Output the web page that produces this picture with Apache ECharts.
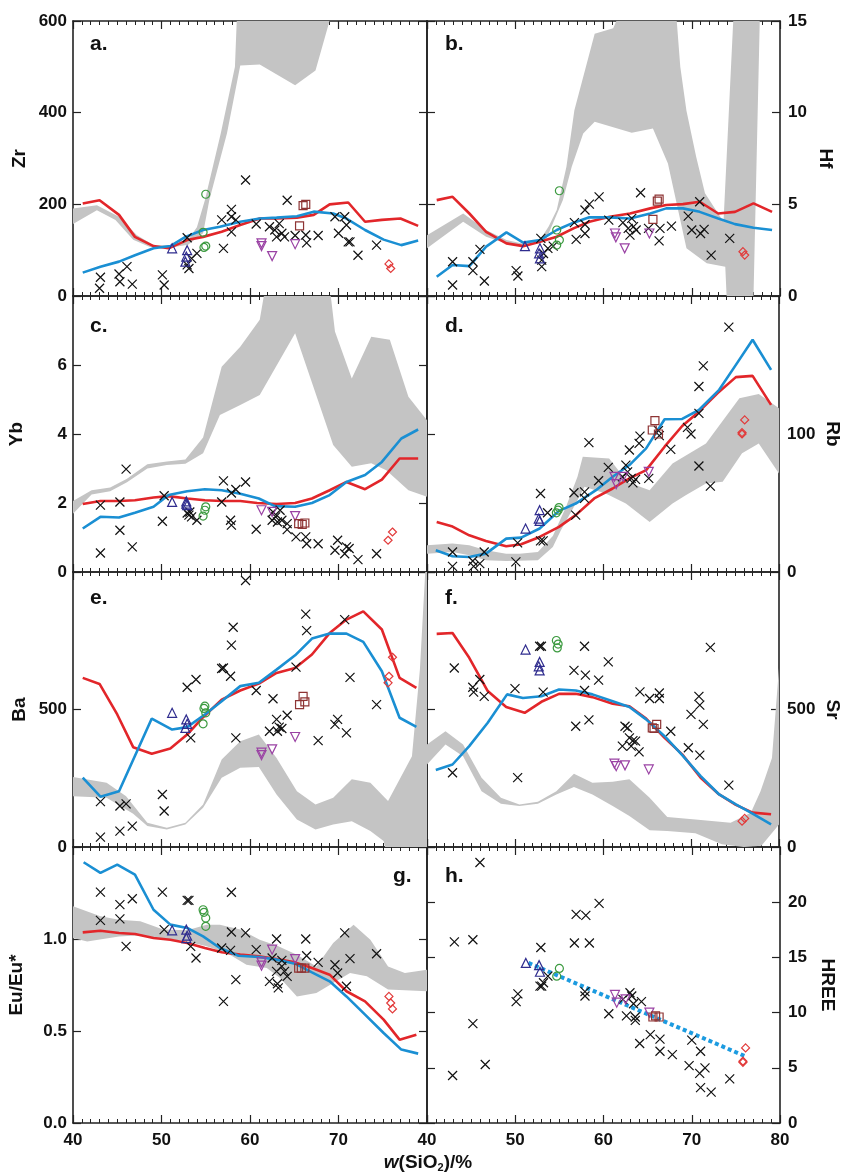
<!DOCTYPE html>
<html><head><meta charset="utf-8">
<script src="https://cdn.jsdelivr.net/npm/echarts@6/dist/echarts.min.js"></script>
<style>html,body{margin:0;padding:0;background:#fff}#c{width:843px;height:1174px}</style>
</head><body><div id="c"></div>
<script>
// ---------- Panel a: Zr ----------
const zrRed = [[41.1,202],[43.0,209],[45.2,177],[47.0,129],[49.1,109],[50.8,104],[52.9,122],[54.7,129],[56.8,140],[58.9,155],[61.1,169],[63.0,169],[65.3,171],[67.2,177],[69.0,200],[71.1,204],[73.0,162],[74.9,166],[77.0,169],[79.0,153]];
const zrBlue = [[41.1,51],[43.1,64],[45.2,75],[47.0,89],[49.1,104],[51.0,109],[52.7,129],[54.7,144],[56.6,151],[58.9,162],[61.1,169],[63.0,171],[65.3,174],[67.2,184],[69.4,180],[70.9,169],[73.0,144],[75.1,123],[77.1,111],[79.0,121]];
const zrBandHi = [[40,191],[42.7,198],[45.2,173],[47.2,133],[49.1,111],[51.4,111],[52.9,120],[54.0,150],[54.9,209],[56.7,355],[58.3,500],[58.7,700],[69.6,700]];
const zrBandLo = [[40,157],[42.7,187],[44.8,166],[46.8,123],[48.7,107],[51.4,107],[53.0,112],[54.7,137],[55.4,209],[57.4,355],[58.9,503],[61.1,505],[65.1,460],[67.4,492],[69.0,601],[69.6,700]];
const zrCross = [[43.1,41],[43.0,17],[45.2,48],[45.3,31],[46.1,64],[46.7,26],[50.1,46],[50.3,24],[52.9,127],[52.9,68],[53.1,60],[53.4,82],[54.0,93],[56.8,166],[57.0,104],[57.9,189],[57.9,173],[58.4,166],[57.9,140],[59.5,253],[60.7,157],[62.2,151],[62.8,144],[63.0,129],[63.3,158],[63.6,137],[64.2,209],[63.9,129],[65.1,132],[66.3,133],[66.4,116],[67.7,132],[69.6,173],[70.0,137],[70.7,173],[70.9,155],[71.1,118],[71.3,118],[72.2,89],[74.3,111]];
const zrTri = [[51.2,104],[52.9,100],[52.8,86],[52.7,75]];
const zrCirc = [[55.0,222],[54.7,139],[54.8,106],[55.0,109]];
const zrInv = [[61.3,115],[61.3,109],[62.5,87],[65.1,113]];
const zrSq = [[66.0,197],[66.3,200],[65.6,153]];
const zrDia = [[75.7,70],[75.9,60]];

// ---------- Panel b: Hf ----------
const hfRed = [[41.1,5.23],[42.9,5.41],[44.8,4.50],[46.7,3.50],[49.0,2.87],[50.9,2.72],[52.8,2.96],[54.7,3.23],[56.6,3.69],[58.4,4.05],[60.7,4.32],[63.0,4.50],[65.3,4.78],[67.1,4.96],[69.0,5.01],[70.9,5.14],[73.0,4.50],[74.9,4.59],[77.0,5.05],[79.1,4.59]];
const hfBlue = [[41.1,1.05],[42.9,1.69],[44.8,1.63],[46.7,2.69],[49.0,3.47],[50.9,2.91],[52.8,3.05],[54.7,3.60],[56.6,4.00],[58.4,4.29],[60.7,4.29],[63.0,4.23],[65.3,4.50],[67.1,4.78],[69.0,4.78],[70.9,4.59],[73.0,4.23],[74.9,3.92],[77.0,3.72],[79.1,3.60]];
const hfBandHi = [[40,3.32],[44.1,4.50],[46.7,3.60],[49.0,3.05],[50.9,2.85],[52.8,3.05],[53.8,3.8],[54.7,4.69],[55.8,7.05],[56.7,10.13],[59.0,14.3],[61.1,14.6],[61.9,15.5],[62.0,17],[68.2,17],[68.3,15],[68.7,12.5],[69.4,10.1],[70.5,7.6],[71.5,5.6],[73.6,4.05],[74.7,15],[74.8,17],[77.8,17]];
const hfBandLo = [[40,2.60],[44.1,4.05],[46.7,3.23],[49.0,2.87],[50.9,2.72],[52.8,2.90],[53.5,3.1],[55.4,5.23],[56.4,7.05],[57.7,8.86],[59.0,9.5],[63.2,8.9],[65.6,9.13],[67.3,7.23],[69.4,2.60],[71.7,1.78],[73.8,1.6],[73.95,0],[74.0,-1],[76.95,-1]];
const hfCross = [[42.9,1.87],[42.9,0.60],[45.2,1.87],[45.2,1.38],[46.0,2.54],[46.5,0.82],[50.1,1.38],[50.3,1.09],[52.9,3.14],[53.0,1.96],[53.0,1.60],[53.2,2.32],[53.7,2.60],[54.3,2.72],[56.7,4.00],[56.9,3.09],[57.9,3.41],[57.9,3.90],[57.9,4.69],[58.4,5.01],[59.5,5.41],[60.6,4.14],[62.2,4.00],[62.8,3.69],[63.0,3.32],[63.2,4.23],[63.4,3.78],[63.7,3.60],[64.2,5.63],[65.1,3.69],[66.4,3.69],[66.3,3.01],[67.7,3.81],[69.6,4.36],[70.0,3.60],[70.9,5.14],[71.0,3.41],[71.4,3.63],[72.2,2.23],[74.3,3.14]];
const hfTri = [[51.1,2.72],[52.8,2.60],[52.7,2.32],[52.8,2.05]];
const hfCirc = [[55.0,5.74],[54.7,3.60],[55.0,3.05],[54.7,2.78]];
const hfInv = [[61.3,3.41],[61.4,3.20],[62.4,2.60],[65.2,3.41]];
const hfSq = [[66.1,5.18],[66.3,5.28],[65.6,4.18]];
const hfDia = [[75.8,2.42],[76.0,2.23]];

// ---------- Panel c: Yb ----------
const ybRed = [[41.1,1.97],[43.1,2.06],[45.2,2.06],[47.0,2.08],[49.1,2.16],[50.8,2.20],[52.9,2.13],[54.9,2.08],[56.8,2.06],[58.9,2.06],[60.8,2.00],[63.0,1.97],[65.1,2.00],[67.0,2.13],[69.0,2.37],[70.9,2.61],[73.0,2.40],[74.9,2.68],[76.9,3.29],[79.0,3.29]];
const ybBlue = [[41.1,1.26],[43.1,1.60],[45.2,1.58],[47.0,1.72],[49.1,1.89],[50.8,2.23],[52.9,2.34],[54.9,2.40],[56.8,2.37],[58.9,2.27],[61.0,2.13],[62.8,1.91],[65.1,1.89],[67.0,2.00],[69.0,2.23],[70.9,2.61],[73.0,2.81],[74.9,3.19],[77.1,3.87],[79.0,4.13]];
const ybBandHi = [[40,2.06],[42.1,2.37],[44.2,2.45],[46.1,2.7],[48.4,3.12],[50.6,3.2],[52.7,3.26],[54.7,3.9],[56.8,5.95],[58.9,6.53],[61.1,7.31],[61.9,8.5],[68.9,8.5],[69.6,6.97],[71.5,5.61],[73.7,6.82],[75.8,6.73],[77.9,5.08],[80,4.4]];
const ybBandLo = [[40,1.69],[42.1,2.25],[44.2,2.34],[46.1,2.6],[48.4,3.0],[50.6,3.1],[52.7,3.14],[54.7,3.44],[56.6,4.55],[58.9,4.84],[61.1,5.13],[65.1,6.92],[69.4,3.68],[71.5,3.05],[73.7,3.15],[75.4,2.95],[77.9,2.37],[80,2.18]];
const ybCross = [[43.1,1.94],[43.1,0.55],[45.3,2.03],[45.3,1.21],[46.0,2.98],[46.7,0.73],[50.1,1.47],[50.3,2.21],[52.9,1.71],[53.1,1.65],[53.2,1.74],[53.4,1.60],[54.0,1.50],[56.8,2.03],[57.0,2.64],[57.8,1.50],[57.9,1.36],[57.9,2.29],[58.4,2.39],[59.5,2.61],[60.7,1.24],[62.5,1.50],[62.6,1.74],[62.9,1.60],[63.1,1.45],[63.4,1.79],[63.6,1.50],[64.2,1.40],[64.2,1.23],[65.2,1.02],[66.3,1.02],[66.4,0.82],[67.7,0.82],[69.6,0.63],[69.9,0.92],[70.7,0.53],[70.9,0.73],[71.2,0.68],[72.2,0.36],[74.3,0.53]];
const ybTri = [[51.2,2.03],[52.8,1.98],[52.9,1.94],[52.8,2.05]];
const ybCirc = [[55.0,1.89],[54.9,1.79],[54.7,1.62]];
const ybInv = [[61.3,1.79],[62.5,1.74],[65.1,1.62]];
const ybSq = [[65.5,1.40],[65.9,1.38],[66.2,1.42]];
const ybDia = [[75.6,0.92],[76.1,1.16]];

// ---------- Panel d: Rb ----------
const rbRed = [[41.1,36.3],[42.8,33.2],[44.8,26.6],[46.7,22.5],[49.0,18.6],[50.7,20.1],[52.8,25.4],[55.0,32.7],[56.9,41.2],[59.0,53.3],[61.1,60.5],[63.0,67.8],[64.9,73.8],[67.0,90.8],[69.0,105.8],[70.9,116.2],[73.0,129.5],[75.1,141.2],[77.0,142.1],[79.1,121.1]];
const rbBlue = [[41.0,15.7],[42.9,11.4],[44.8,10.9],[46.7,13.3],[49.0,24.2],[50.7,24.9],[52.8,31.5],[55.0,44.3],[56.9,49.6],[59.2,59.3],[61.1,69.0],[63.0,77.5],[64.9,89.6],[67.0,110.7],[69.0,110.9],[70.9,117.4],[73.2,132.0],[75.1,150.1],[77.0,168.3],[79.1,146.5]];
const rbBandHi = [[40,19.4],[42.9,20.6],[44.8,19.4],[46.7,15.7],[49.0,13.3],[50.5,13.3],[52.6,14.5],[54.3,26],[55.8,47.2],[57.1,69],[57.7,83.5],[60.7,82.3],[62.8,65],[65.3,59.3],[67.9,78.7],[71.7,93.2],[75.5,125.9],[77.7,129],[80,118.6]];
const rbBandLo = [[40,13.3],[42.9,14.5],[44.8,12.1],[46.7,8.5],[49.0,8.0],[52.6,8.5],[54.3,18.2],[55.2,30],[56.7,47.2],[57.9,61.7],[60.3,56.9],[62.6,49.6],[65.3,36.3],[67.9,49.6],[69.4,55.7],[71.7,64.2],[73.6,65.4],[75.8,86.0],[77.7,93.2],[80,71.4]];
const rbCross = [[42.9,14.5],[42.9,4.1],[45.2,8.0],[45.3,4.1],[46.0,6.1],[46.5,14.5],[50.1,7.3],[50.3,21.1],[52.9,56.9],[52.9,22.5],[53.2,22.5],[53.7,42.9],[56.7,57.4],[56.9,41.2],[57.9,58.1],[57.9,53.3],[58.4,93.7],[59.5,66.1],[60.6,75.8],[62.2,69.0],[62.6,77.5],[62.8,72.6],[63.0,88.4],[63.2,67.8],[63.4,64.6],[63.7,67.1],[64.1,93.2],[64.2,98.5],[65.2,67.8],[66.3,102.4],[66.4,98.8],[67.7,88.9],[69.6,104.8],[70.0,100.0],[70.9,76.8],[70.9,134.4],[70.9,115.0],[71.4,149.4],[72.2,62.2],[74.3,177.5]];
const rbTri = [[51.2,31.5],[52.8,44.8],[52.7,38.7],[52.8,37.0]];
const rbCirc = [[54.9,44.8],[55.0,46.7],[54.7,42.9]];
const rbInv = [[61.3,69.0],[61.5,63.7],[62.3,69.0],[65.2,72.6]];
const rbSq = [[65.9,109.7],[65.6,102.9],[66.3,100.0]];
const rbDia = [[75.8,101.0],[76.1,110.2],[75.8,100.0]];

// ---------- Panel e: Ba ----------
const baRed = [[41.1,615],[43.0,593],[45.0,482],[46.8,363],[48.9,339],[51.0,358],[52.9,409],[54.7,472],[56.8,536],[58.9,569],[61.0,594],[63.0,633],[65.1,651],[67.0,700],[69.0,778],[70.9,827],[72.8,857],[74.9,791],[76.9,615],[78.8,579]];
const baBlue = [[41.1,252],[43.1,183],[45.2,203],[48.9,467],[51.2,427],[52.9,436],[54.9,482],[56.8,530],[58.9,585],[61.0,597],[63.0,645],[65.1,697],[67.0,758],[69.0,776],[70.9,776],[72.8,746],[74.9,639],[76.9,470],[78.8,437]];
const baBandHi = [[40,255],[43.8,234],[46.0,185],[48.4,88],[50.6,70],[52.7,88],[54.7,155],[56.8,318],[58.9,385],[61.0,409],[63.0,324],[65.3,203],[67.4,155],[69.4,179],[71.5,246],[73.6,234],[75.6,167],[78.3,330],[79.2,646],[79.8,1000],[80,1100]];
const baBandLo = [[40,185],[43.8,179],[46.8,121],[48.4,76],[50.6,64],[52.7,82],[54.7,143],[56.8,252],[58.9,288],[61.0,291],[63.0,191],[65.3,100],[67.4,64],[69.4,82],[71.5,94],[73.6,58],[75.1,22],[75.4,-20],[80,-20]];
const baCross = [[43.1,165],[43.1,36],[45.3,149],[45.3,58],[46.0,157],[46.7,76],[50.1,191],[50.3,131],[52.9,581],[53.3,397],[53.9,609],[56.8,649],[57.0,651],[57.8,621],[57.9,734],[58.1,799],[58.4,397],[59.5,969],[60.7,569],[62.2,421],[62.6,539],[63.0,464],[63.1,421],[63.3,436],[63.6,431],[64.2,479],[65.2,654],[66.3,847],[66.4,787],[67.7,387],[69.6,446],[69.9,464],[70.7,827],[70.9,415],[71.3,617],[74.3,518]];
const baTri = [[51.2,488],[52.8,464],[52.9,448],[52.7,433]];
const baCirc = [[54.9,512],[54.8,504],[55.0,488],[54.7,448]];
const baInv = [[61.3,343],[61.3,334],[62.5,355],[65.1,400]];
const baSq = [[66.0,548],[65.6,518],[66.2,528]];
const baDia = [[76.1,690],[75.7,621],[75.6,597]];

// ---------- Panel f: Sr ----------
const srRed = [[41.1,775],[42.9,778],[44.8,688],[46.9,567],[49.0,509],[51.1,488],[53.0,528],[55.0,557],[56.9,557],[58.8,545],[61.1,521],[63.0,512],[64.9,467],[67.0,397],[69.0,337],[71.1,252],[73.2,191],[75.1,153],[77.0,125],[79.1,119]];
const srBlue = [[41.0,280],[42.9,300],[44.8,367],[46.9,452],[49.1,555],[50.9,542],[53.0,548],[55.0,573],[56.9,569],[58.8,555],[61.1,530],[63.0,509],[64.9,464],[67.0,403],[69.0,334],[71.1,258],[73.2,191],[75.1,155],[77.0,121],[79.1,82]];
const srBandHi = [[40,373],[42.1,421],[44.1,373],[46.2,252],[48.4,179],[50.5,155],[52.6,165],[54.7,203],[56.7,266],[58.8,234],[61.1,237],[63.0,246],[65.3,179],[67.3,109],[70.5,100],[74.5,88],[76.8,125],[77.9,203],[79.2,324],[80,651]];
const srBandLo = [[40,300],[42.1,373],[44.1,330],[46.2,203],[48.4,157],[50.5,149],[52.6,157],[54.7,191],[56.7,218],[58.8,191],[61.1,149],[63.0,113],[65.3,61],[67.3,58],[70.5,50],[73.5,10],[76.0,0],[78.0,5],[80,82]];
const srCross = [[43.1,651],[42.9,270],[45.2,581],[45.3,563],[46.0,609],[46.5,548],[50.0,576],[50.3,252],[52.8,730],[53.0,730],[53.2,563],[56.7,642],[56.9,439],[57.9,730],[58.0,625],[57.9,569],[58.4,462],[59.5,607],[60.6,673],[62.5,439],[62.8,433],[62.2,367],[63.0,397],[63.4,387],[63.2,367],[63.7,385],[64.1,346],[64.2,564],[65.3,540],[66.4,560],[66.4,540],[67.7,421],[69.7,361],[70.0,482],[70.9,548],[71.0,516],[71.0,334],[71.4,446],[72.2,726],[74.3,225]];
const srTri = [[51.2,718],[52.8,673],[52.7,657],[52.8,642]];
const srCirc = [[54.7,751],[54.9,738],[54.8,724]];
const srInv = [[61.3,303],[61.5,294],[62.5,297],[65.2,282]];
const srSq = [[65.6,433],[66.1,446],[65.8,431]];
const srDia = [[75.8,94],[76.1,104]];

// ---------- Panel g: Eu/Eu* ----------
const euRed = [[41.1,1.036],[43.1,1.045],[45.2,1.033],[47.0,1.027],[49.1,1.005],[51.0,0.996],[52.9,0.978],[54.9,0.951],[56.8,0.928],[58.9,0.915],[61.0,0.906],[63.0,0.891],[65.1,0.873],[67.0,0.842],[69.0,0.806],[70.9,0.716],[73.0,0.661],[75.1,0.562],[76.9,0.453],[78.8,0.480]];
const euBlue = [[41.2,1.417],[43.1,1.359],[45.0,1.404],[47.0,1.350],[49.1,1.159],[51.0,1.078],[52.9,1.060],[54.7,1.014],[56.6,0.951],[58.7,0.909],[61.0,0.902],[63.0,0.888],[65.1,0.866],[67.0,0.819],[69.0,0.770],[70.9,0.688],[73.0,0.589],[75.1,0.489],[77.1,0.399],[79.0,0.377]];
const euBandHi = [[40,1.178],[43.1,1.123],[45.2,1.105],[47.6,1.096],[50.2,1.051],[52.9,1.047],[55.1,1.078],[56.6,1.078],[58.9,1.051],[61.1,0.996],[63.2,0.960],[65.3,0.915],[67.5,0.851],[69.4,0.978],[71.7,1.078],[73.6,0.996],[75.6,0.851],[77.5,0.815],[80,0.833]];
const euBandLo = [[40,1.005],[41.6,0.987],[45.2,1.014],[47.6,1.02],[51.4,0.996],[52.9,0.987],[55.1,0.960],[57.4,0.924],[59.6,0.860],[61.9,0.842],[63.4,0.788],[65.3,0.688],[67.5,0.707],[69.4,0.761],[71.3,0.815],[73.2,0.797],[75.6,0.725],[77.5,0.721],[80,0.716]];
const euCross = [[43.1,1.255],[43.1,1.101],[45.3,1.187],[45.3,1.109],[46.0,0.960],[46.7,1.219],[50.1,1.255],[50.3,1.051],[52.9,1.210],[53.1,1.210],[53.3,0.960],[53.9,0.897],[56.8,0.951],[57.0,0.661],[57.8,0.938],[57.9,1.254],[57.9,1.038],[58.4,0.779],[59.5,1.033],[60.7,0.942],[62.2,0.770],[62.5,0.897],[63.0,1.000],[63.0,0.824],[63.1,0.757],[63.2,0.734],[63.6,0.884],[63.6,0.851],[63.9,0.824],[64.2,0.797],[66.3,1.000],[66.4,0.909],[67.7,0.873],[69.6,0.860],[69.9,0.815],[70.7,1.033],[70.9,0.743],[71.3,0.893],[74.3,0.920]];
const euTri = [[51.2,1.047],[52.8,1.051],[52.9,1.018],[52.8,1.005]];
const euCirc = [[54.7,1.159],[54.8,1.145],[55.0,1.114],[55.0,1.069]];
const euInv = [[62.5,0.942],[61.3,0.873],[61.3,0.855],[65.1,0.891]];
const euSq = [[65.5,0.842],[65.8,0.842],[66.2,0.842]];
const euDia = [[75.7,0.688],[75.9,0.652],[76.1,0.620]];

// ---------- Panel h: HREE ----------
const hrCross = [[46.0,23.6],[43.1,16.4],[45.2,16.6],[45.2,9.0],[42.9,4.3],[46.6,5.3],[50.1,11.0],[50.3,11.7],[52.9,15.9],[52.8,12.4],[53.0,12.4],[53.2,12.7],[53.7,13.3],[56.7,16.3],[56.9,18.9],[58.0,18.8],[58.4,16.3],[57.9,11.9],[57.9,11.5],[59.5,19.9],[60.6,9.9],[62.2,11.2],[62.6,9.7],[63.0,11.8],[63.2,11.5],[63.4,10.8],[63.6,9.6],[63.6,9.3],[64.1,7.2],[64.3,11.0],[65.3,8.0],[66.4,7.6],[66.4,6.5],[67.8,6.2],[69.7,5.2],[70.0,7.5],[70.9,4.5],[71.0,6.5],[71.0,3.2],[71.5,5.0],[72.2,2.8],[74.3,4.0]];
const hrTri = [[51.2,14.5],[52.7,14.3],[52.8,13.7]];
const hrCirc = [[55.0,14.0],[54.7,13.3]];
const hrInv = [[61.3,11.6],[61.5,10.9],[62.5,11.2],[65.2,10.0]];
const hrSq = [[65.6,9.6],[65.9,9.7],[66.3,9.6]];
const hrDia = [[75.8,5.5],[76.1,6.8],[75.8,5.6]];
const hrTrend = [[51.5,14.5],[76.2,6.0]];

// ---------- axis settings ----------
const xTicks = [40, 80, 10];
const panelNames = ['Zr','Hf','Yb','Rb','Ba','Sr','Eu/Eu*','HREE'];
const panelLetters = ['a.','b.','c.','d.','e.','f.','g.','h.'];
const yMax = [600, 15, 8, 200, 1000, 1000, 1.5, 25];
const yInterval = [200, 5, 2, 100, 500, 500, 0.5, 5];

const FONT = '"Liberation Sans", Arial, Helvetica, sans-serif';
const AX = '#222';
const C_RED = '#e2262a', C_BLUE = '#1a8fd3', C_BAND = '#c4c4c4';
const C_TRI = '#2f2c8e', C_CIRC = '#3b9a3f', C_INV = '#9a42a4', C_SQ = '#8e3434', C_DIA = '#e23a3a';

const panels = [
  {red:zrRed, blue:zrBlue, hi:zrBandHi, lo:zrBandLo, cross:zrCross, tri:zrTri, circ:zrCirc, inv:zrInv, sq:zrSq, dia:zrDia},
  {red:hfRed, blue:hfBlue, hi:hfBandHi, lo:hfBandLo, cross:hfCross, tri:hfTri, circ:hfCirc, inv:hfInv, sq:hfSq, dia:hfDia},
  {red:ybRed, blue:ybBlue, hi:ybBandHi, lo:ybBandLo, cross:ybCross, tri:ybTri, circ:ybCirc, inv:ybInv, sq:ybSq, dia:ybDia},
  {red:rbRed, blue:rbBlue, hi:rbBandHi, lo:rbBandLo, cross:rbCross, tri:rbTri, circ:rbCirc, inv:rbInv, sq:rbSq, dia:rbDia},
  {red:baRed, blue:baBlue, hi:baBandHi, lo:baBandLo, cross:baCross, tri:baTri, circ:baCirc, inv:baInv, sq:baSq, dia:baDia},
  {red:srRed, blue:srBlue, hi:srBandHi, lo:srBandLo, cross:srCross, tri:srTri, circ:srCirc, inv:srInv, sq:srSq, dia:srDia},
  {red:euRed, blue:euBlue, hi:euBandHi, lo:euBandLo, cross:euCross, tri:euTri, circ:euCirc, inv:euInv, sq:euSq, dia:euDia},
  {cross:hrCross, tri:hrTri, circ:hrCirc, inv:hrInv, sq:hrSq, dia:hrDia, trend:hrTrend}
];

const colLeft = [73, 427], colWidth = [354, 353];
const rowTop = [21, 296, 572, 847], rowHeight = [275, 276, 275, 276];
const nameGaps = [44, 36, 47, 44, 44, 44, 47, 38];

const grid = [], xAxis = [], yAxis = [], series = [];
const lblStyle = {fontFamily: FONT, fontWeight: 'bold', fontSize: 17, color: '#111'};

panels.forEach((p, i) => {
  const col = i % 2, row = Math.floor(i / 2);
  grid.push({left: colLeft[col], top: rowTop[row], width: colWidth[col], height: rowHeight[row], containLabel: false});
  const xBase = {
    gridIndex: i, type: 'value', min: xTicks[0], max: xTicks[1], interval: xTicks[2],
    axisLine: {show: true, onZero: false, lineStyle: {color: AX, width: 1.6}},
    axisTick: {show: true, inside: true, length: 8, lineStyle: {color: AX, width: 1.2}},
    minorTick: {show: true, splitNumber: 10, length: 4, lineStyle: {color: AX, width: 1}},
    splitLine: {show: false}, minorSplitLine: {show: false}
  };
  xAxis.push(Object.assign({}, xBase, {position: 'bottom',
    axisLabel: Object.assign({show: row === 3, margin: 9, showMaxLabel: i !== 6}, lblStyle)}));
  xAxis.push(Object.assign({}, xBase, {position: 'top', axisLabel: {show: false}}));
  const yBase = {
    gridIndex: i, type: 'value', min: 0, max: yMax[i], interval: yInterval[i],
    axisLine: {show: true, onZero: false, lineStyle: {color: AX, width: 1.6}},
    axisTick: {show: true, inside: true, length: 8, lineStyle: {color: AX, width: 1.2}},
    splitLine: {show: false}
  };
  const showMax = (i === 0 || i === 1);
  yAxis.push(Object.assign({}, yBase, {
    position: col === 0 ? 'left' : 'right',
    axisLabel: Object.assign({show: true, margin: col === 0 ? 6 : 8, showMaxLabel: showMax,
      formatter: i === 6 ? (v => v.toFixed(1)) : (v => String(v))}, lblStyle),
    name: panelNames[i], nameLocation: 'middle', nameRotate: col === 0 ? 90 : -90, nameGap: nameGaps[i],
    nameTextStyle: {fontFamily: FONT, fontWeight: 'bold', fontSize: 19, color: '#111'}
  }));
  yAxis.push(Object.assign({}, yBase, {position: col === 0 ? 'right' : 'left', axisLabel: {show: false}}));
  const xi = 2 * i, yi = 2 * i;
  if (p.hi) {
    const hi = p.hi, lo = p.lo;
    series.push({
      type: 'custom', xAxisIndex: xi, yAxisIndex: yi, clip: true, silent: true, z: 1,
      data: [[hi[0][0], hi[0][1]]],
      renderItem: function (params, api) {
        const pts = [];
        hi.forEach(q => pts.push(api.coord(q)));
        for (let k = lo.length - 1; k >= 0; k--) pts.push(api.coord(lo[k]));
        return {type: 'polygon', shape: {points: pts}, style: {fill: C_BAND, stroke: null}};
      }
    });
  }
  if (p.red) series.push({type: 'line', xAxisIndex: xi, yAxisIndex: yi, data: p.red, symbol: 'none', z: 3, silent: true,
    lineStyle: {color: C_RED, width: 2.6}});
  if (p.blue) series.push({type: 'line', xAxisIndex: xi, yAxisIndex: yi, data: p.blue, symbol: 'none', z: 3, silent: true,
    lineStyle: {color: C_BLUE, width: 2.6}});
  if (p.trend) series.push({type: 'line', xAxisIndex: xi, yAxisIndex: yi, data: p.trend, symbol: 'none', z: 3, silent: true,
    lineStyle: {color: '#1c9be0', width: 4, type: [4, 3]}});
  const sc = (data, symbol, color, size, bw) => series.push({
    type: 'scatter', xAxisIndex: xi, yAxisIndex: yi, data: data, symbol: symbol, symbolSize: size, z: 4, silent: true,
    itemStyle: {color: 'rgba(0,0,0,0)', borderColor: color, borderWidth: bw, opacity: 1}
  });
  sc(p.cross, 'path://M0 0L10 10M10 0L0 10', '#111', 9, 1.2);
  sc(p.tri, 'triangle', C_TRI, 9, 1.2);
  sc(p.circ, 'circle', C_CIRC, 8, 1.2);
  sc(p.inv, 'path://M0 0L10 0L5 9Z', C_INV, 9, 1.2);
  sc(p.sq, 'rect', C_SQ, 8, 1.2);
  sc(p.dia, 'diamond', C_DIA, 8, 1.2);
});

const letterPos = [[90,44],[445,44],[90,326],[445,326],[90,598],[445,598],[393,876],[445,876]];
const graphic = panelLetters.map((t, i) => ({
  type: 'text', x: letterPos[i][0], y: letterPos[i][1], z: 10,
  style: {text: t, fontFamily: FONT, fontWeight: 'bold', fontSize: 21, fill: '#111', align: 'left', verticalAlign: 'middle'}
}));
graphic.push({
  type: 'text', x: 428, y: 1163, z: 10,
  style: {
    text: '{i|w}{n|(SiO}{s|2}{n|)/%}', align: 'center', verticalAlign: 'middle',
    rich: {
      i: {fontFamily: FONT, fontWeight: 'bold', fontStyle: 'italic', fontSize: 19, fill: '#111'},
      n: {fontFamily: FONT, fontWeight: 'bold', fontSize: 19, fill: '#111'},
      s: {fontFamily: FONT, fontWeight: 'bold', fontSize: 11, fill: '#111', padding: [9, 0, 0, 0]}
    }
  }
});

const chart = echarts.init(document.getElementById('c'), null, {renderer: 'canvas'});
chart.setOption({animation: false, backgroundColor: '#fff', grid, xAxis, yAxis, series, graphic});
</script></body></html>
